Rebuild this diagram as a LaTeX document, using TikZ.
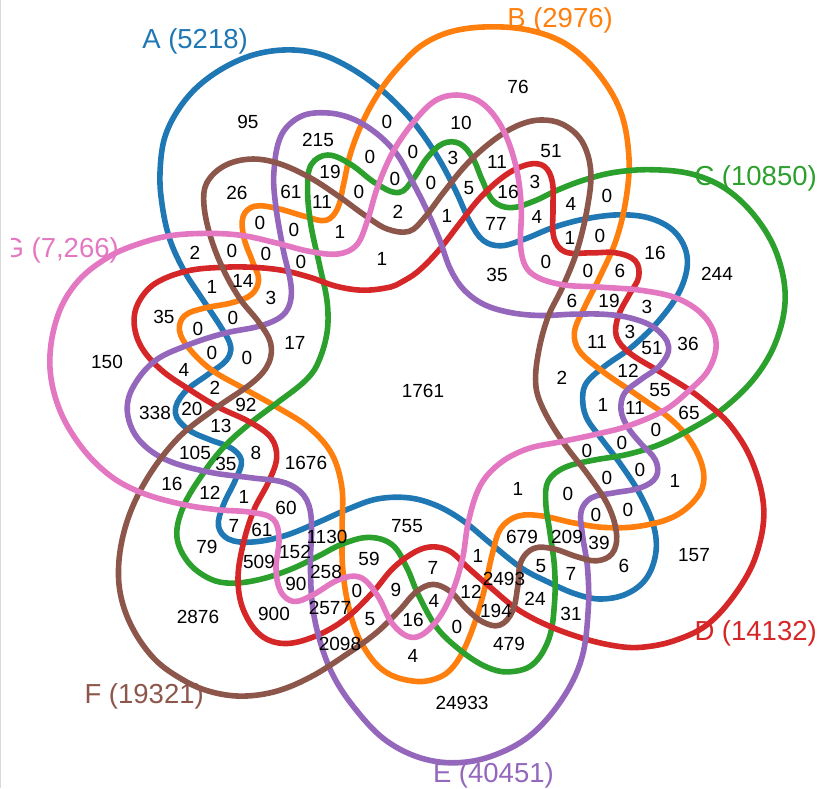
\documentclass[tikz,border=0pt]{standalone}
\usepackage{fontspec}
\setmainfont{Liberation Sans}
\definecolor{cA}{HTML}{1F77B4}
\definecolor{cB}{HTML}{FF7F0E}
\definecolor{cC}{HTML}{2CA02C}
\definecolor{cD}{HTML}{D62728}
\definecolor{cE}{HTML}{9467BD}
\definecolor{cF}{HTML}{8C564B}
\definecolor{cG}{HTML}{E377C2}
\tikzset{
  setline/.style={line width=5.6pt,line join=round},
  num/.style={inner sep=0pt,font=\fontsize{19}{20}\selectfont,text=black},
  setlabel/.style={inner sep=0pt,anchor=base east,font=\fontsize{27.5}{30}\selectfont},
}
% closed G1 spline: light position smoothing, chord tangents, handles = 1/3 of each segment
\newcommand{\vcs}[1]{\csname #1\endcsname}
\newcommand{\vennpath}[2]{%
  \foreach \a/\b [count=\n] in {#2}{%
    \expandafter\xdef\csname ox\n\endcsname{\a}%
    \expandafter\xdef\csname oy\n\endcsname{\b}%
    \xdef\vN{\n}}%
  \foreach \i in {1,...,\vN}{%
    \pgfmathtruncatemacro\vprev{\i==1?\vN:\i-1}%
    \pgfmathtruncatemacro\vnext{\i==\vN?1:\i+1}%
    \pgfmathsetmacro\sx{(\vcs{ox\vprev}+8*\vcs{ox\i}+\vcs{ox\vnext})/10}%
    \pgfmathsetmacro\sy{(\vcs{oy\vprev}+8*\vcs{oy\i}+\vcs{oy\vnext})/10}%
    \expandafter\xdef\csname vx\i\endcsname{\sx}%
    \expandafter\xdef\csname vy\i\endcsname{\sy}}%
  \foreach \i in {1,...,\vN}{%
    \pgfmathtruncatemacro\vprev{\i==1?\vN:\i-1}%
    \pgfmathtruncatemacro\vnext{\i==\vN?1:\i+1}%
    \pgfmathsetmacro\ddx{\vcs{vx\vnext}-\vcs{vx\vprev}}%
    \pgfmathsetmacro\ddy{\vcs{vy\vnext}-\vcs{vy\vprev}}%
    \pgfmathsetmacro\ddl{veclen(\ddx,\ddy)}%
    \pgfmathsetmacro\ttx{\ddx/\ddl}%
    \pgfmathsetmacro\tty{\ddy/\ddl}%
    \expandafter\xdef\csname tx\i\endcsname{\ttx}%
    \expandafter\xdef\csname ty\i\endcsname{\tty}}%
  \xdef\vpth{(\vcs{vx1},\vcs{vy1})}%
  \foreach \i in {1,...,\vN}{%
    \pgfmathtruncatemacro\vnext{\i==\vN?1:\i+1}%
    \pgfmathsetmacro\hh{veclen(\vcs{vx\vnext}-\vcs{vx\i},\vcs{vy\vnext}-\vcs{vy\i})/3}%
    \pgfmathsetmacro\cax{\vcs{vx\i}+\vcs{tx\i}*\hh}%
    \pgfmathsetmacro\cay{\vcs{vy\i}+\vcs{ty\i}*\hh}%
    \pgfmathsetmacro\cbx{\vcs{vx\vnext}-\vcs{tx\vnext}*\hh}%
    \pgfmathsetmacro\cby{\vcs{vy\vnext}-\vcs{ty\vnext}*\hh}%
    \xdef\vpth{\vpth .. controls (\cax,\cay) and (\cbx,\cby) .. (\vcs{vx\vnext},\vcs{vy\vnext})}}%
  \draw[setline,#1] \vpth -- cycle;%
}
\begin{document}
\begin{tikzpicture}[x=1pt,y=-1pt]
\useasboundingbox (0,0) rectangle (825,788);
\draw[black!15,line width=1pt] (0.5,0) -- (0.5,788);
\node[setlabel,text=cA] (la) at (248,48) {A (5218)};
\node[setlabel,text=cB] (lb) at (613,27) {B (2976)};
\node[setlabel,text=cC] (lc) at (817,185) {C (10850)};
\node[setlabel,text=cD] (ld) at (817,640) {D (14132)};
\node[setlabel,text=cE] (le) at (554,782) {E (40451)};
\node[setlabel,text=cF] (lf) at (204,703) {F (19321)};
\begin{scope}
\clip (11,200) rectangle (200,300);
\node[setlabel,text=cG] (lg) at (119,257) {G (7,266)};
\end{scope}
\vennpath{cA}{287/49,320/53,350/67,380/88,403/110,420/130,440/160,457/193,470/223,483/242,500/247,523/240,553/227,587/218,623/214,653/218,677/232,689/257,683/287,663/317,633/347,603/367,585/383,582/397,585/417,600/437,620/463,640/493,655/527,657/553,647/580,627/595,600/600,577/595,550/583,523/570,490/543,463/520,437/505,410/497,377/498,350/508,317/523,283/537,250/543,227/540,217/527,222/507,237/477,243/460,233/448,210/440,187/430,173/413,182/393,210/373,228/360,232/347,223/330,203/300,183/270,168/237,160/193,160/165,164/137,176/112,195/88,222/68,253/54}
\vennpath{cB}{493/26,533/30,567/43,597/70,622/110,630/157,627/197,617/240,600/277,583/310,573/333,577/350,600/370,640/397,673/420,693/443,705/473,702/493,677/517,640/527,603/528,573/523,540/515,517/515,500/527,493/550,483/597,470/637,457/663,443/677,417/683,383/673,360/643,348/607,342/567,342/527,343/487,333/453,310/427,277/407,243/388,210/370,187/347,178/330,183/315,203/308,233/303,253/295,260/280,253/263,243/237,242/215,253/205,277/208,307/217,327/222,338/210,343/187,350/153,363/120,380/90,400/65,423/43,453/30}
\vennpath{cC}{650/169,693/173,727/188,757/217,778/253,787/297,778/340,757/377,723/410,693/428,660/445,627/455,593/460,563/467,547/480,545/500,550/533,555/567,555/603,550/640,533/667,507/673,487/668,463/653,437/630,417/593,407/567,393/543,370/536,343/543,317/557,290/570,260/580,230/584,210/580,187/563,175/537,182/507,203/473,223/447,250/423,277/403,307/380,317/367,328/333,328/303,320/267,310/223,307/187,310/163,327/153,350/163,377/185,400/195,413/180,427/157,443/142,460/142,473/157,482/180,493/203,510/209,533/202,557/190,583/180,613/172}
\vennpath{cD}{400/283,417/273,437/253,460/223,480/197,507/173,530/163,545/165,553/180,553/207,553/240,563/253,590/253,617/252,637/260,640/277,630/293,617/317,615/337,627/352,657/370,690/390,703/400,730/423,753/460,766/510,757/557,737/593,707/627,673/642,640/648,620/647,587/640,550/627,517/610,490/587,467/567,450/550,433/546,417/550,393/567,373/593,343/622,313/638,283/645,260/637,242/610,237/580,242/547,253/510,270/480,278/457,273/438,253/423,217/407,190/390,160/370,140/347,133/323,137/303,153/283,187/270,223/267,253/267,283/270,310/277,337/287,363/291,393/287}
\vennpath{cE}{273/173,280/133,300/115,327/112,353/118,377/133,397/153,410/177,427/210,440/240,450/270,463/290,483/305,510/313,540/316,573/314,607/314,633/318,657/328,671/347,662/365,640/380,623/393,620/410,627/427,640/443,657/460,658/477,643/488,613/493,590/497,580/510,582/533,588/567,589/607,583/660,563/700,530/738,490/758,453/764,417/758,383/740,353/707,333/677,320/643,312/607,310/567,312/513,305/495,287/482,253/478,210/473,163/460,137/440,126/413,130/390,153/360,187/345,223/333,267/325,287/313,293/293,283/250,275/203}
\vennpath{cF}{540/119,563/123,583/140,592/170,588/207,577/253,563/287,547/317,537/357,535/388,543/410,563/443,590/477,610/507,618/537,613/555,597/562,577/557,553/548,533/547,520/560,518/587,513/613,500/627,483/623,467/610,450/590,433/583,417/590,400/610,377/633,343/657,310/678,277/692,243/697,213/693,187/683,153/660,127/620,117/580,123/530,143/483,177/437,217/407,257/380,270/363,272/343,260/323,240/300,223/270,210/237,203/203,205/183,223/165,250/158,277/162,310/177,340/197,367/217,387/230,410/233,423/220,443/193,467/163,493/140,517/125}
\vennpath{cG}{460/94,483/102,503/127,517/167,522/207,520/253,528/273,557/285,600/287,643/290,680/298,707/317,718/343,710/370,690/390,667/410,627/427,593/435,560/442,527/448,500/462,480/483,468/520,463/560,450/600,433/627,413/640,393/627,377/593,360/575,340/578,310/597,293/603,280/593,275/570,280/537,275/518,253/512,217/510,183/505,140/493,110/477,80/447,57/407,48/363,57/313,77/280,110/255,140/243,170/235,210/233,243/235,277/243,310/252,340/255,357/247,367/223,377/187,393/150,417/117,437/98}
\foreach \px/\py/\t in {
248/122/95,387/122/0,461/123/10,518/87/76,318/140/215,551/151/51,370/157/0,413/152/0,453/158/3,497/162/11,330/172/19,
237/193/26,291/192/61,322/202/11,359/192/0,395/179/0,431/183/0,469/188/5,508/192/16,535/182/3,607/196/0,571/204/4,
260/223/0,294/230/0,340/232/1,398/212/2,447/216/1,496/224/77,537/217/4,570/238/1,600/236/0,655/253/16,717/274/244,
195/253/2,232/251/0,266/254/0,301/262/0,382/259/1,497/275/35,546/262/0,588/271/0,620/271/6,
212/287/1,243/281/14,271/298/3,572/301/6,609/301/19,647/307/3,164/317/35,233/318/0,198/329/0,295/343/17,
597/342/11,630/332/3,652/348/51,688/344/36,212/353/0,247/358/0,107/362/150,184/370/4,628/371/12,562/378/2,660/390/55,
215/388/2,423/391/1761,155/413/338,192/409/20,246/405/92,603/405/1,635/408/11,689/413/65,221/426/13,656/430/0,
195/453/105,226/464/35,256/453/8,306/463/1676,587/451/0,622/443/0,172/484/16,607/478/0,640/470/0,675/481/1,
210/493/12,244/497/1,518/489/1,568/494/0,286/508/60,596/515/0,628/510/0,234/526/7,262/530/61,407/526/755,
207/547/79,327/537/1130,522/537/679,567/537/209,599/543/39,259/562/509,295/552/152,369/559/59,478/556/1,624/566/6,694/555/157,
296/584/90,326/572/258,433/568/7,541/566/5,571/574/7,357/591/0,396/590/9,434/601/4,471/592/12,504/579/2493,535/599/24,
274/614/900,330/608/2577,370/619/5,413/620/16,457/627/0,496/611/194,571/614/31,340/644/2098,413/656/4,509/644/479,
198/617/2876,462/703/24933}
  \node[num] at (\px,\py) {\t};
\end{tikzpicture}
\end{document}
